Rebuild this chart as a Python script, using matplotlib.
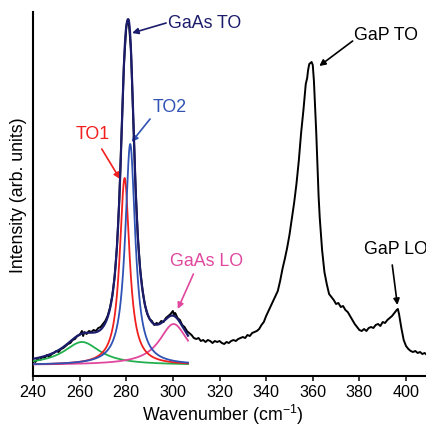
import numpy as np
import matplotlib
matplotlib.use("Agg")
import matplotlib.pyplot as plt

plt.rcParams['font.family'] = ['Liberation Sans', 'DejaVu Sans']
plt.rcParams['mathtext.fontset'] = 'custom'
plt.rcParams['mathtext.rm'] = 'Liberation Sans'
plt.rcParams['mathtext.default'] = 'regular'

# ===================================== Data
# measured Raman spectrum (wavenumber in cm-1, intensity in arb. units)
wavenumber = [240, 241, 242, 243, 244, 245, 246, 247, 248, 249, 250, 251, 252, 253, 254,
              255, 256, 257, 258, 259, 260, 261, 261.5, 262, 263, 264, 265, 266, 267, 268,
              269, 270, 271, 272, 273, 274, 275, 276, 277, 278, 279, 280, 280.5, 281, 282,
              283, 284, 285, 286, 287, 288, 289, 290, 291, 292, 293, 294, 295, 296, 297,
              298, 299, 300, 300.5, 301, 302, 303, 304, 305, 306, 307, 308, 309, 310, 311,
              312, 313, 314, 315, 316, 317, 318, 319, 320, 321, 322, 323, 324, 325, 326,
              327, 328, 329, 330, 331, 332, 333, 334, 335, 336, 337, 338, 339, 340, 341,
              342, 343, 344, 345, 346, 346.5, 347, 348, 349, 350, 351, 352, 353, 354, 355,
              356, 357, 357.6, 358, 358.5, 359, 359.5, 360, 360.5, 361, 361.5, 362, 362.5, 363,
              364, 365, 366, 367, 368, 369, 370, 371, 372, 373, 374, 375, 376, 377, 378,
              379, 380, 381, 382, 383, 384, 385, 386, 387, 388, 389, 390, 391, 392, 393,
              394, 395, 396, 396.5, 397, 398, 399, 400, 401, 402, 403, 404, 405, 406, 407,
              408, 409]
intensity = [16, 14, 17, 16, 19, 18, 21, 19, 22, 23, 25, 24, 27, 28, 30,
             32, 33, 36, 37, 40, 41, 45, 40, 44, 42, 45, 44, 46, 45, 48,
             49, 52, 55, 60, 68, 80, 99, 129, 176, 242, 311, 349, 355, 356, 327,
             258, 188, 138, 106, 86, 71, 62, 57, 55, 51, 53, 52, 55, 54, 58,
             60, 62, 65, 61, 63, 58, 56, 51, 49, 45, 43, 41, 38, 37, 38,
             35, 36, 34, 36, 35, 33, 35, 34, 35, 33, 32, 34, 33, 35, 36,
             35, 37, 38, 39, 38, 41, 40, 43, 44, 45, 47, 51, 54, 60, 65,
             70, 75, 80, 85, 95, 101, 107, 117, 128, 141, 157, 173, 192, 215, 243,
             266, 292, 298, 306, 312, 313, 314, 311, 295, 270, 243, 212, 180, 158,
             126, 104, 92, 82, 79, 76, 72, 73, 69, 70, 66, 64, 60, 56, 52,
             49, 46, 45, 47, 45, 48, 49, 48, 51, 52, 50, 54, 53, 56, 58,
             60, 63, 66, 67, 62, 48, 36, 30, 27, 25, 24, 25, 23, 24, 22,
             23, 21]

# Lorentzian fit of the GaAs region
fit_range = [240, 306.5]
fit_baseline = 11
peak_names = ["bump", "GaAs LO", "TO1", "TO2"]
peak_centers = [261.0, 300.3, 279.3, 281.7]
peak_hwhm = [9.5, 7.5, 2.55, 2.6]
peak_heights = [23, 41, 187, 221]
peak_colors = ['#22b04e', '#e0489e', '#f0201e', '#2f52b4']
sum_color = '#1c1c6c'

# annotations: text, text position, arrow tail, arrow head, colour
labels = ["GaAs TO", "TO2", "TO1", "GaAs LO", "GaP TO", "GaP LO"]
label_pos = [(297.9, 354), (291.3, 270), (265.7, 242), (298.6, 115), (377.7, 341), (382, 127)]
arrow_tail = [(297.1, 353), (290.2, 257), (269.5, 227), (308.8, 102), (377.1, 335), (394.1, 111)]
arrow_head = [(282.5, 343), (282.3, 234), (277.3, 197), (302.1, 67), (362.8, 310), (396.3, 71)]
label_colors = [sum_color, '#2f52b4', '#f0201e', '#e0489e', 'black', 'black']
label_ha = ['left', 'left', 'center', 'left', 'left', 'left']


def lorentz(x, x0, g, h):
    return h / (1 + ((x - x0) / g) ** 2)


# ===================================== Plot
fig = plt.figure(figsize=(4.27, 4.27), dpi=100)
ax = fig.add_axes([33 / 427, 1 - 377 / 427, 394 / 427, 364 / 427])

ax.plot(wavenumber, intensity, color='black', lw=1.4, zorder=2)

xf = np.linspace(fit_range[0], fit_range[1], 700)
total = np.full_like(xf, fit_baseline, dtype=float)
for x0, g, h, c in zip(peak_centers, peak_hwhm, peak_heights, peak_colors):
    comp = lorentz(xf, x0, g, h)
    total += comp
    ax.plot(xf, comp + fit_baseline, color=c, lw=1.3, zorder=3)
ax.plot(xf, total, color=sum_color, lw=1.6, zorder=4)

for txt, pos, tail, head, c, ha in zip(labels, label_pos, arrow_tail, arrow_head, label_colors, label_ha):
    ax.text(pos[0], pos[1], txt, color=c, fontsize=12.8, ha=ha, va='center')
    ax.annotate('', xy=head, xytext=tail,
                arrowprops=dict(arrowstyle='-|>', color=c, lw=1.2, mutation_scale=9,
                                shrinkA=0, shrinkB=0))

ax.set_xlim(240, 409)
ax.set_ylim(0, 364)
ax.set_xticks(np.arange(240, 401, 20))
ax.set_yticks([])
ax.spines['top'].set_visible(False)
ax.spines['right'].set_visible(False)
ax.spines['left'].set_linewidth(1.5)
ax.spines['bottom'].set_linewidth(1.5)
ax.tick_params(axis='x', direction='out', length=3.5, width=1.1, labelsize=11.6, pad=2)

ax.set_xlabel('Wavenumber (cm$^{-1}$)', fontsize=12.8)
ax.xaxis.set_label_coords(0.482, -0.07)
ax.set_ylabel('Intensity (arb. units)', fontsize=12.8, labelpad=4)

fig.savefig("out.png", dpi=100)
